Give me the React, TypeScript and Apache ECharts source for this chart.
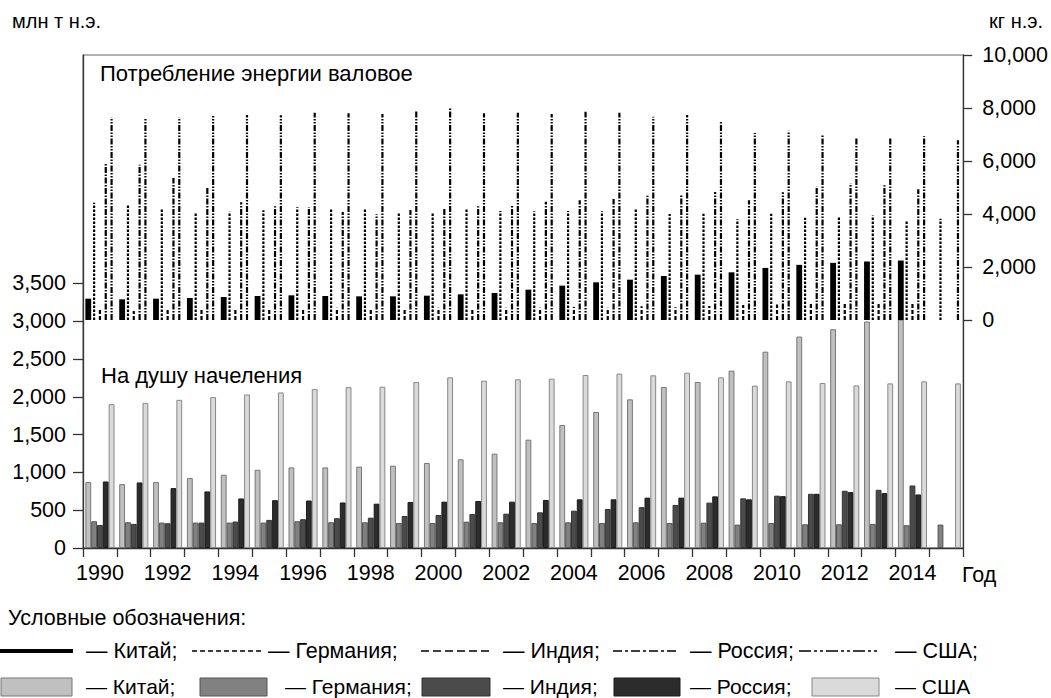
import React, { useEffect, useRef } from 'react';
import * as echarts from 'echarts';

const FONT = "'Liberation Sans', Arial, Helvetica, sans-serif";

const years = ['1990', '1991', '1992', '1993', '1994', '1995', '1996', '1997', '1998', '1999', '2000', '2001', '2002', '2003', '2004', '2005', '2006', '2007', '2008', '2009', '2010', '2011', '2012', '2013', '2014', '2015'];
const countries = ['Китай', 'Германия', 'Индия', 'Россия', 'США'];

// Upper panel (kg н.э.)
const upperChina = [805, 780, 805, 830, 868, 906, 931, 906, 893, 893, 918, 969, 1019, 1145, 1296, 1422, 1522, 1660, 1711, 1799, 1965, 2081, 2156, 2207, 2245, null];
const upperGermany = [4428, 4328, 4202, 4076, 4088, 4139, 4252, 4189, 4177, 4026, 4051, 4177, 4114, 4101, 4114, 4101, 4227, 4000, 4013, 3799, 4005, 3859, 3884, 3947, 3720, 3821];
const upperIndia = [390, 340, 403, 428, 428, 440, 440, 465, 440, 440, 465, 440, 465, 465, 491, 465, 516, 478, 528, 566, 585, 605, 630, 630, 656, null];
const upperRussia = [5913, 5862, 5359, 4994, 4441, 4290, 4265, 4076, 3988, 4151, 4227, 4290, 4303, 4466, 4516, 4567, 4692, 4705, 4831, 4516, 4817, 5044, 5157, 5082, 4930, null];
const upperUSA = [7650, 7598, 7650, 7699, 7737, 7724, 7825, 7800, 7774, 7888, 8039, 7800, 7825, 7774, 7863, 7825, 7674, 7737, 7472, 7057, 7137, 6986, 6872, 6885, 6936, 6784];

// Lower panel (млн т н.э.)
const lowerChina = [872, 845, 872, 925, 969, 1035, 1066, 1066, 1076, 1089, 1124, 1173, 1248, 1433, 1627, 1799, 1966, 2130, 2196, 2346, 2597, 2797, 2894, 2996, 3022, null];
const lowerGermany = [354, 341, 336, 336, 336, 336, 354, 341, 340, 331, 331, 348, 340, 331, 340, 331, 340, 331, 335, 309, 331, 314, 314, 319, 301, 310];
const lowerIndia = [305, 319, 327, 336, 350, 372, 381, 394, 401, 423, 436, 450, 454, 472, 494, 516, 540, 569, 600, 657, 692, 717, 757, 770, 827, null];
const lowerRussia = [880, 867, 792, 748, 655, 633, 628, 602, 586, 608, 613, 622, 613, 635, 644, 644, 666, 666, 683, 644, 686, 717, 739, 726, 708, null];
const lowerUSA = [1903, 1920, 1960, 1996, 2031, 2058, 2102, 2128, 2134, 2196, 2257, 2213, 2231, 2240, 2288, 2306, 2284, 2319, 2257, 2147, 2204, 2182, 2151, 2177, 2204, 2177];

const leftTicks = [0, 500, 1000, 1500, 2000, 2500, 3000, 3500];
const rightTicks = [0, 2000, 4000, 6000, 8000, 10000];

const upperSeries = [upperChina, upperGermany, upperIndia, upperRussia, upperUSA];
const lowerSeries = [lowerChina, lowerGermany, lowerIndia, lowerRussia, lowerUSA];

const lineDashes: (number[] | null)[] = [null, [2.5, 1.5], [4, 2], [6, 1.5, 1.5, 1.5], [6, 1.5, 1.5, 1.5, 1.5, 1.5]];
const barFills = ['#c0c0c0', '#818181', '#4b4b4b', '#2c2c2c', '#dadada'];
const barBorders = ['#777777', '#555555', '#333333', '#1a1a1a', '#888888'];

const CAT_GAP = 0.14;

function makeRender(i: number) {
  const dash = lineDashes[i];
  return (params: any, api: any) => {
    const idx = api.value(0);
    const v = api.value(1);
    const top = api.coord([idx, v]);
    const base = api.coord([idx, 0]);
    const band = api.size([1, 0])[0];
    const slot = (band * (1 - CAT_GAP)) / 5;
    const cx = top[0] + (i - 2) * slot;
    if (!dash) {
      return {
        type: 'rect',
        shape: { x: cx - slot / 2, y: top[1], width: slot, height: base[1] - top[1] },
        style: { fill: '#000' },
      };
    }
    return {
      type: 'line',
      shape: { x1: cx, y1: base[1], x2: cx, y2: top[1] },
      style: { stroke: '#000', lineWidth: 2.2, lineDash: dash, fill: null },
    };
  };
}

function txt(x: number, y: number, text: string, size: number, align: string = 'left') {
  return {
    type: 'text',
    x,
    y,
    style: { text, fontSize: size, fontFamily: FONT, fill: '#000', verticalAlign: 'middle', align },
  };
}

export default function App() {
  const ref = useRef<HTMLDivElement>(null);
  useEffect(() => {
    if (!ref.current) return;
    const chart = echarts.init(ref.current, undefined, { renderer: 'svg' });
    const gridTop = 55;
    const gridBottomY = 548;
    const h = gridBottomY - gridTop;
    const leftMax = (h / 37.8) * 500;
    const zeroRightY = 320;
    const rightPer = (zeroRightY - gridTop) / 10000;
    const rightMin = -(gridBottomY - zeroRightY) / rightPer;

    const customSeries = upperSeries.map((arr, i) => ({
      type: 'custom',
      name: countries[i] + ' (на душу)',
      xAxisIndex: 0,
      yAxisIndex: 1,
      renderItem: makeRender(i),
      encode: { x: 0, y: 1 },
      data: arr.map((v, k) => (v == null ? null : [k, v])).filter((d) => d !== null),
      z: 3,
    }));

    const barSeries = lowerSeries.map((arr, i) => ({
      type: 'bar',
      name: countries[i],
      xAxisIndex: 0,
      yAxisIndex: 0,
      data: arr,
      barGap: '0%',
      barCategoryGap: CAT_GAP * 100 + '%',
      itemStyle: { color: barFills[i], borderColor: barBorders[i], borderWidth: 1 },
      z: 2,
    }));

    const legendY2 = 651;
    const legendY3 = 686;
    const LS = 21.5;
    const lineItems = [
      { x1: 0, x2: 73, w: 4, dash: null, tx: 86, t: '— Китай;' },
      { x1: 192, x2: 262, w: 1.6, dash: [5, 3], tx: 268, t: '— Германия;' },
      { x1: 421, x2: 493, w: 1.6, dash: [8, 4], tx: 503, t: '— Индия;' },
      { x1: 613, x2: 678, w: 1.6, dash: [9, 3, 3, 3], tx: 690, t: '— Россия;' },
      { x1: 799, x2: 880, w: 1.6, dash: [12, 3, 3, 3, 3, 3], tx: 895, t: '— США;' },
    ];
    const boxItems = [
      { x: 1, w: 71, tx: 86, t: '— Китай;' },
      { x: 200, w: 67, tx: 285, t: '— Германия;' },
      { x: 422, w: 68, tx: 503, t: '— Индия;' },
      { x: 614, w: 66, tx: 690, t: '— Россия;' },
      { x: 812, w: 67, tx: 895, t: '— США' },
    ];

    const graphic: any[] = [
      txt(12, 21, 'млн т н.э.', 20),
      txt(1043, 21, 'кг н.э.', 20, 'right'),
      txt(100, 73, 'Потребление энергии валовое', 22),
      txt(101, 375, 'На душу начеления', 22),
      txt(962, 575, 'Год', 21.5),
      txt(8, 618, 'Условные обозначения:', LS),
    ];
    lineItems.forEach((it) => {
      graphic.push({
        type: 'line',
        shape: { x1: it.x1, y1: legendY2, x2: it.x2, y2: legendY2 },
        style: { stroke: '#000', lineWidth: it.w, lineDash: it.dash || undefined },
      });
      graphic.push(txt(it.tx, legendY2, it.t, LS));
    });
    boxItems.forEach((it, i) => {
      graphic.push({
        type: 'rect',
        shape: { x: it.x, y: 678, width: it.w, height: 18 },
        style: { fill: barFills[i], stroke: barBorders[i], lineWidth: 1 },
      });
      graphic.push(txt(it.tx, legendY3, it.t, 21));
    });

    const axisLabelBase = { fontSize: 21.5, color: '#000', fontFamily: FONT };

    chart.setOption({
      animation: false,
      backgroundColor: '#fff',
      textStyle: { fontFamily: FONT },
      grid: {
        left: 83,
        right: 1051 - 964,
        top: gridTop,
        bottom: 698 - gridBottomY,
        show: true,
        borderColor: '#666',
        borderWidth: 1,
        backgroundColor: 'transparent',
      },
      xAxis: {
        type: 'category',
        data: years,
        boundaryGap: true,
        axisLine: { lineStyle: { color: '#333', width: 1.3 } },
        axisTick: { show: true, interval: 0, length: 9, lineStyle: { color: '#333', width: 1.3 } },
        axisLabel: { ...axisLabelBase, interval: 1, margin: 14 },
      },
      yAxis: [
        {
          type: 'value',
          position: 'left',
          min: 0,
          max: leftMax,
          splitLine: { show: false },
          axisLine: { show: true, lineStyle: { color: '#333', width: 1.3 } },
          axisTick: { show: true, length: 10, customValues: leftTicks, lineStyle: { color: '#333', width: 1.3 } },
          axisLabel: {
            ...axisLabelBase,
            customValues: leftTicks,
            margin: 17,
            formatter: (v: number) => v.toLocaleString('en-US'),
          },
        },
        {
          type: 'value',
          position: 'right',
          min: rightMin,
          max: 10000,
          splitLine: { show: false },
          axisLine: { show: true, lineStyle: { color: '#333', width: 1.3 } },
          axisTick: { show: true, length: 9, customValues: rightTicks, lineStyle: { color: '#333', width: 1.3 } },
          axisLabel: {
            ...axisLabelBase,
            customValues: rightTicks,
            margin: 19,
            formatter: (v: number) => v.toLocaleString('en-US'),
          },
        },
      ],
      graphic,
      series: [...barSeries, ...customSeries],
    });
    return () => chart.dispose();
  }, []);
  return <div ref={ref} style={{ position: 'fixed', left: 0, top: 0, width: 1051, height: 698, background: '#fff' }} />;
}
